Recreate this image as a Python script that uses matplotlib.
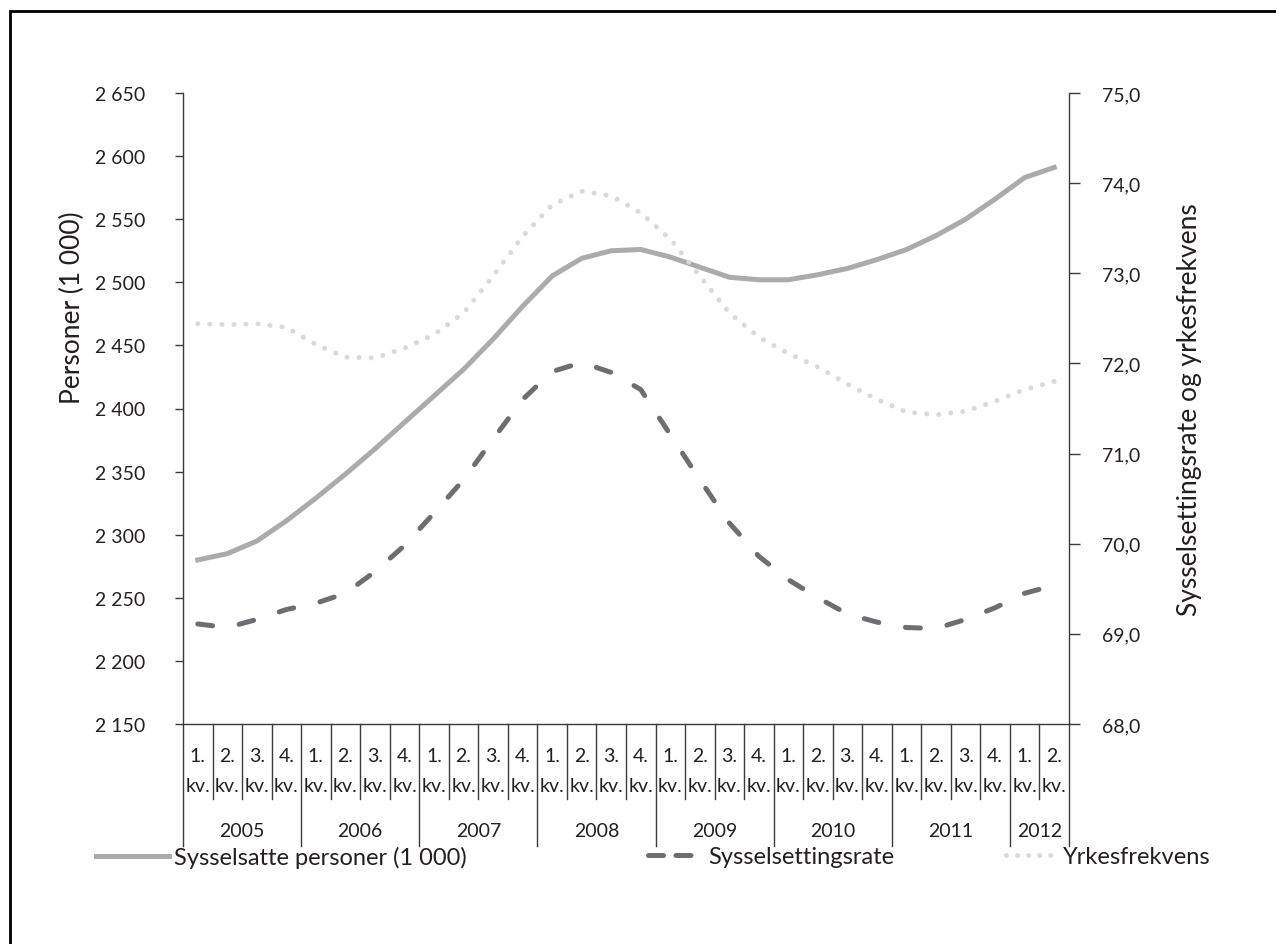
import matplotlib
matplotlib.use("Agg")
import matplotlib.pyplot as plt
from matplotlib.patches import Rectangle
from matplotlib.lines import Line2D
from matplotlib.ticker import FuncFormatter

plt.rcParams['font.family'] = ['Lato', 'DejaVu Sans']

years = ['2005', '2006', '2007', '2008', '2009', '2010', '2011', '2012']
quarters_per_year = [4, 4, 4, 4, 4, 4, 4, 2]
quarter_labels = ['1.\nkv.', '2.\nkv.', '3.\nkv.', '4.\nkv.']

sysselsatte = [2280, 2285, 2295, 2311, 2329, 2348, 2368, 2389, 2410, 2431,
               2455, 2481, 2505, 2519, 2525, 2526, 2520, 2512, 2504, 2502,
               2502, 2506, 2511, 2518, 2526, 2537, 2550, 2566, 2583, 2591]
sysselsettingsrate = [69.11, 69.07, 69.16, 69.27, 69.34, 69.45, 69.69, 69.98, 70.34, 70.71,
                      71.16, 71.60, 71.91, 72.01, 71.90, 71.71, 71.21, 70.71, 70.23, 69.86,
                      69.60, 69.40, 69.22, 69.13, 69.07, 69.06, 69.16, 69.29, 69.45, 69.54]
yrkesfrekvens = [72.44, 72.43, 72.44, 72.40, 72.21, 72.07, 72.06, 72.17, 72.32, 72.56,
                 72.97, 73.41, 73.76, 73.91, 73.86, 73.67, 73.38, 72.97, 72.56, 72.29,
                 72.11, 71.96, 71.77, 71.60, 71.46, 71.43, 71.47, 71.58, 71.71, 71.80]

left_ticks = [2150, 2200, 2250, 2300, 2350, 2400, 2450, 2500, 2550, 2600, 2650]
right_ticks = [68.0, 69.0, 70.0, 71.0, 72.0, 73.0, 74.0, 75.0]

TXT = '#231F20'
AXC = '#3C3C3C'
C_SOLID = '#ABABAD'
C_DASH = '#6D6E71'
C_DOT = '#D9D9DB'

W, H = 1276, 945
fig = plt.figure(figsize=(W / 100, H / 100), dpi=100)
ax = fig.add_axes([183 / W, 1 - 725 / H, (1069 - 183) / W, (725 - 94) / H])
ax2 = ax.twinx()

n = len(sysselsatte)
x = list(range(n))

ax.plot(x, sysselsatte, color=C_SOLID, lw=3.6, solid_joinstyle='round', zorder=3)
ax2.plot(x, sysselsettingsrate, color=C_DASH, lw=3.6, linestyle=(0, (3.0, 5.4)),
         dash_capstyle='round', zorder=3)
ax2.plot(x, yrkesfrekvens, color=C_DOT, lw=3.6, linestyle=(0, (0.01, 2.4)),
         dash_capstyle='round', zorder=2)

ax.set_xlim(-0.5, n - 0.5)
ax.set_ylim(2150, 2650)
ax2.set_ylim(68, 75)
ax.set_yticks(left_ticks)
ax2.set_yticks(right_ticks)
ax.yaxis.set_major_formatter(FuncFormatter(lambda v, p: f"{int(v):,}".replace(',', ' ')))
ax2.yaxis.set_major_formatter(FuncFormatter(lambda v, p: f"{v:.1f}".replace('.', ',')))

for a in (ax, ax2):
    a.spines['top'].set_visible(False)
    for s in a.spines.values():
        s.set_color(AXC)
        s.set_linewidth(1.0)
ax.spines['right'].set_visible(False)
ax2.spines['left'].set_visible(False)
ax2.spines['bottom'].set_visible(False)

ax.tick_params(axis='y', direction='out', length=6, width=1.0, color=AXC,
               labelsize=14, labelcolor=TXT, pad=21)
ax2.tick_params(axis='y', direction='out', length=8, width=1.0, color=AXC,
                labelsize=14, labelcolor=TXT, pad=16)
ax.set_xticks([])

fig.text(72 / W, 1 - 308 / H, 'Personer (1 000)', rotation=90, ha='center', va='center',
         fontsize=19, color=TXT)
fig.text(1190 / W, 1 - 410 / H, 'Sysselsettingsrate og yrkesfrekvens', rotation=90,
         ha='center', va='center', fontsize=19, color=TXT)

# category axis
tr = ax.get_xaxis_transform()
axh = 725 - 94
q_depth = -(800 - 725) / axh
y_depth = -(847 - 725) / axh
qi = 0
bounds = [-0.5]
for yr, nq in zip(years, quarters_per_year):
    for k in range(nq):
        top, bot = quarter_labels[k].split('\n')
        ax.text(qi, -(757 - 725) / axh, top, transform=tr,
                ha='center', va='center', fontsize=14, color=TXT)
        ax.text(qi, -(787 - 725) / axh, bot, transform=tr,
                ha='center', va='center', fontsize=14, color=TXT)
        if k > 0:
            ax.plot([qi - 0.5, qi - 0.5], [0, q_depth], transform=tr, color=AXC,
                    lw=1.0, clip_on=False)
        qi += 1
    start = qi - nq
    ax.text((start + qi - 1) / 2, -(832 - 725) / axh, yr, transform=tr,
            ha='center', va='center', fontsize=14, color=TXT)
    bounds.append(qi - 0.5)
for b in bounds:
    ax.plot([b, b], [0, y_depth], transform=tr, color=AXC, lw=1.0, clip_on=False)

# legends
fy = 1 - 858 / H
h1 = Line2D([], [], color=C_SOLID, lw=3.6)
h2 = Line2D([], [], color=C_DASH, lw=3.6, linestyle=(0, (3.0, 2.5)), dash_capstyle='round')
h3 = Line2D([], [], color=C_DOT, lw=3.6, linestyle=(0, (0.01, 2.2)), dash_capstyle='round')
for h, lab, x0, hl in [(h1, 'Sysselsatte personer (1 000)', 96 / W, 3.1),
                       (h2, 'Sysselsettingsrate', 648 / W, 2.35),
                       (h3, 'Yrkesfrekvens', 1006 / W, 2.2)]:
    fig.legend([h], [lab], loc='center left', bbox_to_anchor=(x0, fy), frameon=False,
               fontsize=17, handlelength=hl, handletextpad=0.2, borderpad=0,
               borderaxespad=0, labelcolor=TXT)

# outer border
fig.patches.append(Rectangle((10 / W, -0.05), 1.2, 1 - 12 / H + 0.05, transform=fig.transFigure,
                             fill=False, edgecolor='black', lw=2.0))

fig.savefig('out.png', dpi=100)
